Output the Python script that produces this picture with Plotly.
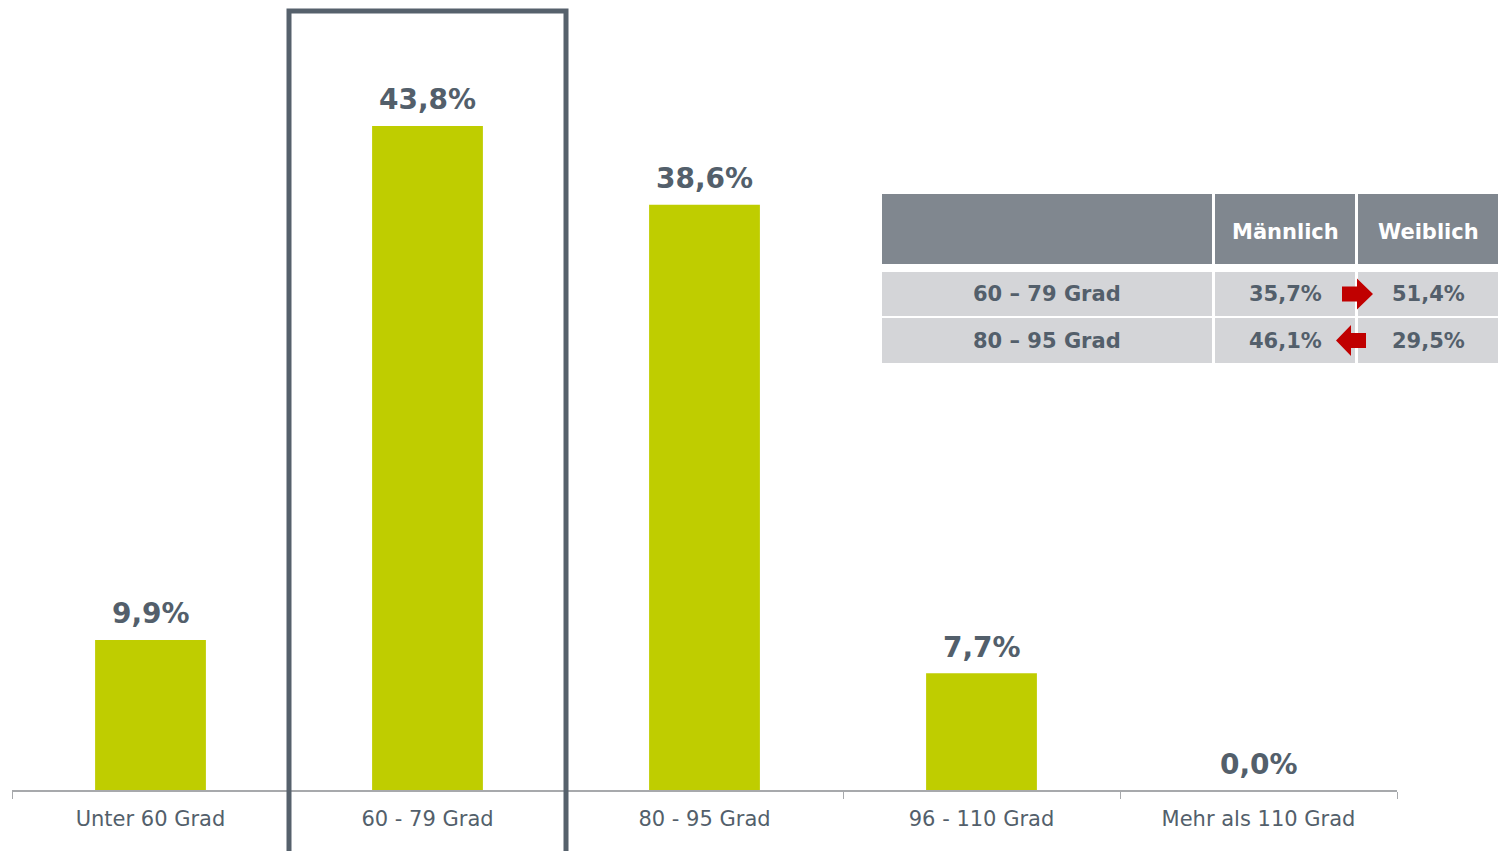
import plotly.graph_objects as go

categories = ["Unter 60 Grad", "60 - 79 Grad", "80 - 95 Grad", "96 - 110 Grad", "Mehr als 110 Grad"]
values = [9.9, 43.8, 38.6, 7.7, 0.0]
value_labels = ["9,9%", "43,8%", "38,6%", "7,7%", "0,0%"]

table_header = ["", "Männlich", "Weiblich"]
table_rows = ["60 – 79 Grad", "80 – 95 Grad"]
male_values = ["35,7%", "46,1%"]
female_values = ["51,4%", "29,5%"]
arrow_dirs = ["right", "left"]

W, H = 1498, 851
ML, MR, MT, MB = 12, 101, 0, 61
PW, PH = W - ML - MR, H - MT - MB

TXT = "#535f6b"
BAR = "#bfcd00"
FONT = "DejaVu Sans"


def px(x):
    return (x - ML) / PW


def py(y):
    return (H - MB - y) / PH


fig = go.Figure()
fig.add_trace(go.Bar(
    x=categories, y=values, marker=dict(color=BAR, line=dict(width=0)),
    hoverinfo="skip", showlegend=False,
))

annotations = []
for c, v, t in zip(categories, values, value_labels):
    annotations.append(dict(x=c, y=v, xref="x", yref="y", text=t, showarrow=False,
                            yanchor="middle", yshift=26,
                            font=dict(family=FONT, size=28, color=TXT, weight="bold")))

shapes = []
# highlight box around 60-79 Grad
shapes.append(dict(type="rect", xref="paper", yref="paper", x0=0.2, x1=0.4,
                   y0=py(900), y1=py(11), line=dict(color="#56616c", width=5),
                   fillcolor="rgba(0,0,0,0)", layer="above"))

# table cells
cols = [(882, 1212), (1215, 1355), (1358, 1500)]
rows_y = [(194, 264), (272, 316), (318, 363)]
for ri, (y0, y1) in enumerate(rows_y):
    color = "#80878f" if ri == 0 else "#d4d5d8"
    for (x0, x1) in cols:
        shapes.append(dict(type="rect", xref="paper", yref="paper",
                           x0=px(x0), x1=px(x1), y0=py(y1), y1=py(y0),
                           fillcolor=color, line=dict(width=0), layer="below"))

centers = [1047, 1285, 1428]
for ci, h in enumerate(table_header):
    if h:
        annotations.append(dict(x=px(centers[ci]), y=py(232), xref="paper", yref="paper", text=h,
                                showarrow=False, xanchor="center", yanchor="middle",
                                font=dict(family=FONT, size=21, color="white", weight="bold")))

for ri in range(len(table_rows)):
    y0, y1 = rows_y[ri + 1]
    cy = (y0 + y1) / 2
    for ci, t in enumerate([table_rows[ri], male_values[ri], female_values[ri]]):
        annotations.append(dict(x=px(centers[ci]), y=py(cy), xref="paper", yref="paper", text=t,
                                showarrow=False, xanchor="center", yanchor="middle",
                                font=dict(family=FONT, size=21, color=TXT, weight="bold")))

# arrows
for ri, d in enumerate(arrow_dirs):
    y0, y1 = rows_y[ri + 1]
    cy = (y0 + y1) / 2
    if d == "right":
        pts = [(1342, cy - 7.5), (1357, cy - 7.5), (1357, cy - 15.5), (1373, cy),
               (1357, cy + 15.5), (1357, cy + 7.5), (1342, cy + 7.5)]
    else:
        pts = [(1366, cy - 7.5), (1351, cy - 7.5), (1351, cy - 15.5), (1336, cy),
               (1351, cy + 15.5), (1351, cy + 7.5), (1366, cy + 7.5)]
    path = "M " + " L ".join(f"{px(a):.5f},{py(b):.5f}" for a, b in pts) + " Z"
    shapes.append(dict(type="path", xref="paper", yref="paper", path=path,
                       fillcolor="#c00000", line=dict(width=0), layer="above"))

fig.update_layout(
    width=W, height=H,
    margin=dict(l=ML, r=MR, t=MT, b=MB, pad=0),
    paper_bgcolor="white", plot_bgcolor="white",
    bargap=0.6,
    xaxis=dict(range=[-0.5, 4.5], showgrid=False, zeroline=False,
               showline=True, linecolor="#a7a9ac", linewidth=2,
               ticks="outside", tickson="boundaries", ticklen=7, tickcolor="#a7a9ac", tickwidth=1,
               ticklabelstandoff=9,
               tickfont=dict(family=FONT, size=21, color=TXT), fixedrange=True),
    yaxis=dict(range=[0, PH / 15.16], visible=False, fixedrange=True),
    annotations=annotations,
    shapes=shapes,
    showlegend=False,
)

fig.write_html(
    "out.html",
    config={"displayModeBar": False},
    post_script="document.body.style.margin='0';document.body.style.overflow='hidden';",
)
